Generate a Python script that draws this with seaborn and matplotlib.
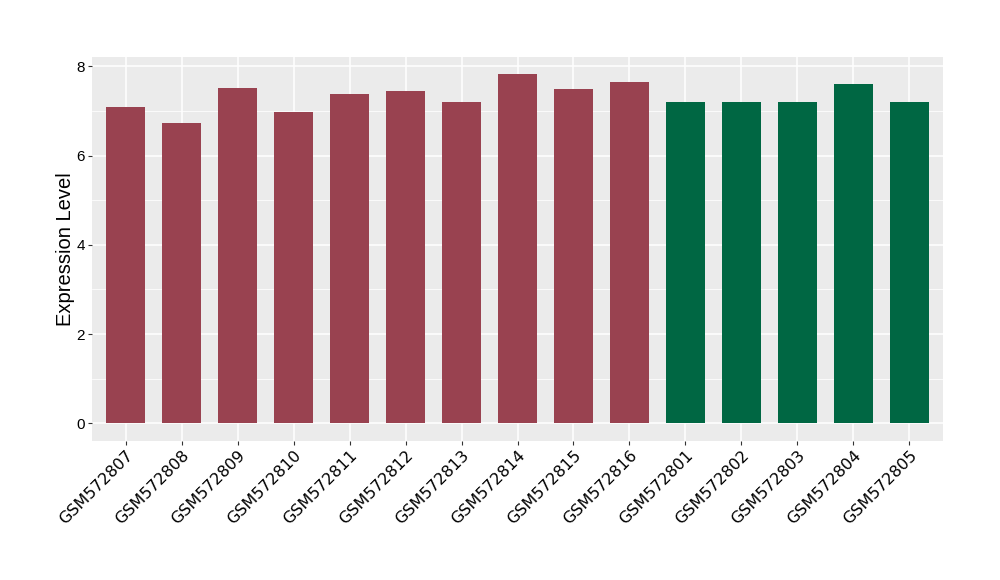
import pandas as pd
import numpy as np
import matplotlib.pyplot as plt
import seaborn as sns

# values
samples = ['GSM572807', 'GSM572808', 'GSM572809', 'GSM572810', 'GSM572811',
           'GSM572812', 'GSM572813', 'GSM572814', 'GSM572815', 'GSM572816',
           'GSM572801', 'GSM572802', 'GSM572803', 'GSM572804', 'GSM572805']
expression = [7.08, 6.72, 7.51, 6.97, 7.37, 7.44, 7.19, 7.82, 7.48, 7.64,
              7.19, 7.19, 7.19, 7.60, 7.19]
groups = ['A'] * 10 + ['B'] * 5
group_colors = {'A': '#994250', 'B': '#006743'}

df = pd.DataFrame({'Sample': samples, 'Expression': expression, 'Group': groups})

plt.rcParams['font.family'] = ['Liberation Sans', 'DejaVu Sans']

fig, ax = plt.subplots(figsize=(10, 5.8), dpi=100)
fig.subplots_adjust(left=0.092, right=0.943, top=0.902, bottom=0.240)

ax.set_facecolor('#EBEBEB')
sns.barplot(data=df, x='Sample', y='Expression', hue='Group', palette=group_colors,
            width=0.7, dodge=False, legend=False, saturation=1, ax=ax)

ax.set_xlim(-0.6, len(samples) - 0.4)
ax.set_ylim(-0.39, 8.21)
ax.set_yticks([0, 2, 4, 6, 8])
ax.set_yticks([1, 3, 5, 7], minor=True)

ax.set_axisbelow(True)
ax.grid(which='major', color='white', linewidth=1.1)
ax.grid(which='minor', axis='y', color='white', linewidth=0.55)
for s in ax.spines.values():
    s.set_visible(False)

ax.tick_params(which='major', length=3, width=0.8, color='#333333', labelsize=11, labelcolor='black', pad=2)
ax.tick_params(which='minor', length=0)
plt.setp(ax.get_xticklabels(), rotation=45, ha='right', va='top', rotation_mode='anchor',
         family='DejaVu Sans', fontsize=11.5)

ax.set_xlabel('')
ax.set_ylabel('Expression Level', fontsize=14.5, labelpad=1)

fig.savefig('out.png', dpi=100)
